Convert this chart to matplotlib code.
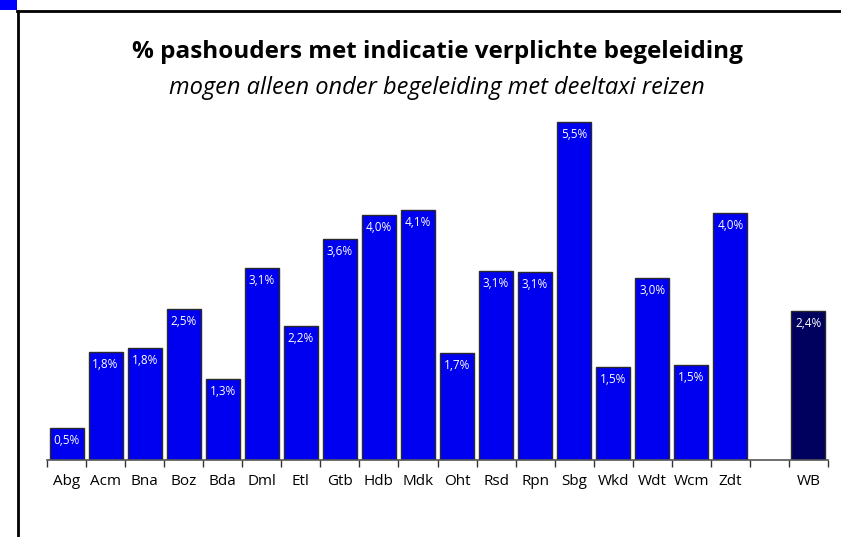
import numpy as np
import matplotlib.pyplot as plt
from matplotlib.patches import Rectangle
from matplotlib.lines import Line2D

# data
categories = ["Abg", "Acm", "Bna", "Boz", "Bda", "Dml", "Etl", "Gtb", "Hdb", "Mdk",
              "Oht", "Rsd", "Rpn", "Sbg", "Wkd", "Wdt", "Wcm", "Zdt", "", "WB"]
values = [0.52, 1.76, 1.82, 2.45, 1.32, 3.12, 2.18, 3.60, 3.98, 4.06,
          1.74, 3.08, 3.06, 5.50, 1.52, 2.96, 1.54, 4.02, None, 2.42]

title = "% pashouders met indicatie verplichte begeleiding"
subtitle = "mogen alleen onder begeleiding met deeltaxi reizen"

plt.rcParams['font.family'] = ['Open Sans', 'DejaVu Sans']

fig = plt.figure(figsize=(8.41, 5.37), dpi=100)
W, H = 841, 537

# frame lines and the little blue block in the corner
fig.patches.append(Rectangle((0, 1 - 10 / H), 17 / W, 10 / H, transform=fig.transFigure,
                             facecolor="#0000ff", edgecolor="none"))
fig.lines.append(Line2D([17 / W, 1], [1 - 10.5 / H] * 2, transform=fig.transFigure,
                        color="black", lw=2))
fig.lines.append(Line2D([18 / W] * 2, [0, 1 - 10.5 / H], transform=fig.transFigure,
                        color="black", lw=2))

ax = fig.add_axes([47 / W, 1 - 460 / H, 781 / W, 369 / H])

x = np.arange(len(categories))
for i, v in enumerate(values):
    if v is None:
        continue
    color = "#00005e" if categories[i] == "WB" else "#0000f0"
    ax.bar(x[i], v, width=0.87, color=color, edgecolor="#2a2a2a", linewidth=1.0)
    ax.text(x[i], v - 0.1, f"{v:.1f}%".replace(".", ","), ha="center", va="top",
            color="white", fontsize=8.5)

ax.set_xlim(-0.5, len(categories) - 0.5)
ax.set_ylim(0, 6)
for s in ["top", "right", "left"]:
    ax.spines[s].set_visible(False)
ax.spines["bottom"].set_color("#555555")
ax.spines["bottom"].set_linewidth(1.2)
ax.set_yticks([])
ax.set_xticks(np.arange(len(categories) + 1) - 0.5)
ax.set_xticklabels([])
ax.tick_params(axis="x", length=5, width=1, color="#333333")
ax.set_xticks(x, minor=True)
ax.set_xticklabels(categories, minor=True, fontsize=11)
ax.tick_params(axis="x", which="minor", length=0, pad=10)

fig.text(437 / W, 1 - 52 / H, title, ha="center", va="center",
         fontsize=17.5, fontweight="bold")
fig.text(437 / W, 1 - 88 / H, subtitle, ha="center", va="center",
         fontsize=17, style="italic")

fig.savefig("out.png", dpi=100)
